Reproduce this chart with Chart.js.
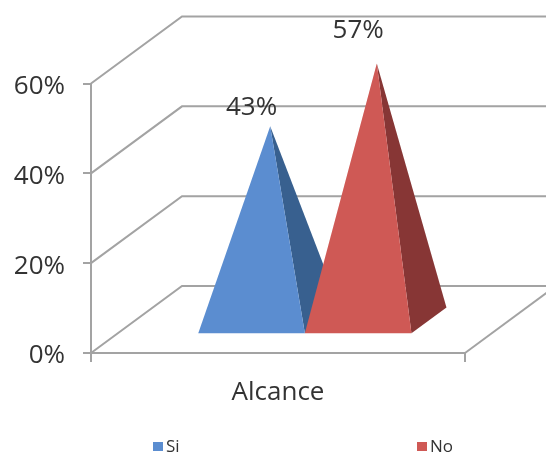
<!DOCTYPE html>
<html>
<head>
<meta charset="utf-8">
<style>
    html, body { margin: 0; padding: 0; background: #fff; }
    #wrap { width: 546px; height: 455px; }
</style>
<script src="https://cdn.jsdelivr.net/npm/chart.js@4/dist/chart.umd.min.js"></script>
</head>
<body>
<div id="wrap"><canvas id="chart" width="546" height="455"></canvas></div>
<script>
/* ============================
   Datos
============================ */
const categories = ['Alcance']
const seriesNames = ['Si', 'No']
const siValues = [43]
const noValues = [57]
const yTicks = [0, 20, 40, 60]

/* ============================
   Estilos
============================ */
const FONT = '"Open Sans", sans-serif'
const GRID_COLOR = '#a3a3a3'
const TEXT_COLOR = '#333333'
const FRONT_COLORS = ['#5b8dd0', '#cf5955']
const SIDE_COLORS = ['#38608f', '#873635']

// Profundidad de la caja 3D, en px
const DEPTH_X = 91
const DEPTH_Y = -67
// Fracciones de profundidad de la piramide
const BAR_FRONT = 0.295
const BAR_APEX = 0.5
const BAR_BACK = 0.68
// Altura de cada etiqueta sobre su vertice
const LABEL_LIFT = [19, 33]
// Posicion de la leyenda
const LEGEND_X = [153, 417]
const LEGEND_Y = 447

function project(x, y, depth) {
    return [x + DEPTH_X * depth, y + DEPTH_Y * depth]
}

function fillPoly(ctx, points, color) {
    ctx.beginPath()
    points.forEach((p, i) => i ? ctx.lineTo(p[0], p[1]) : ctx.moveTo(p[0], p[1]))
    ctx.closePath()
    ctx.fillStyle = color
    ctx.fill()
}

function strokeLine(ctx, points) {
    ctx.beginPath()
    points.forEach((p, i) => i ? ctx.lineTo(p[0], p[1]) : ctx.moveTo(p[0], p[1]))
    ctx.stroke()
}

// Paredes y piso detras de las piramides
function drawWalls(chart) {
    const { ctx, chartArea, scales, width } = chart
    ctx.save()
    ctx.strokeStyle = GRID_COLOR
    ctx.lineWidth = 2
    yTicks.forEach(tick => {
        const y = scales.y.getPixelForValue(tick)
        const back = project(chartArea.left, y, 1)
        strokeLine(ctx, [[chartArea.left, y], back, [width, back[1]]])
    })
    const bottom = scales.y.getPixelForValue(0)
    strokeLine(ctx, [[chartArea.right, bottom], project(chartArea.right, bottom, 1)])
    ctx.restore()
}

function drawPyramid(chart, index) {
    const { ctx, scales } = chart
    const bar = chart.getDatasetMeta(index).data[0]
    const floor = scales.y.getPixelForValue(0)
    const half = bar.width / 2
    const frontLeft = project(bar.x - half, floor, BAR_FRONT)
    const frontRight = project(bar.x + half, floor, BAR_FRONT)
    const backRight = project(bar.x + half, floor, BAR_BACK)
    const apex = project(bar.x, bar.y, BAR_APEX)
    fillPoly(ctx, [frontRight, backRight, apex], SIDE_COLORS[index])
    fillPoly(ctx, [frontLeft, frontRight, apex], FRONT_COLORS[index])
}

function drawLabel(chart, index) {
    const { ctx } = chart
    const bar = chart.getDatasetMeta(index).data[0]
    const value = chart.data.datasets[index].data[0]
    const labelX = project(bar.x, bar.y, BAR_FRONT)[0]
    const labelY = project(bar.x, bar.y, BAR_APEX)[1] - LABEL_LIFT[index]
    ctx.save()
    ctx.font = `26px ${FONT}`
    ctx.fillStyle = TEXT_COLOR
    ctx.textAlign = 'center'
    ctx.textBaseline = 'middle'
    ctx.fillText(`${value}%`, labelX, labelY)
    ctx.restore()
}

// Leyenda con los colores de cada dataset
function drawLegend(chart) {
    const { ctx } = chart
    ctx.save()
    ctx.font = `17px ${FONT}`
    ctx.textBaseline = 'middle'
    chart.data.datasets.forEach((dataset, i) => {
        ctx.fillStyle = dataset.backgroundColor
        ctx.fillRect(LEGEND_X[i], LEGEND_Y - 5, 10, 9)
        ctx.fillStyle = TEXT_COLOR
        ctx.fillText(dataset.label, LEGEND_X[i] + 13, LEGEND_Y)
    })
    ctx.restore()
}

const pyramidPlugin = {
    id: 'pyramid3d',
    beforeDatasetsDraw(chart) {
        drawWalls(chart)
        seriesNames.forEach((name, i) => drawPyramid(chart, i))
        seriesNames.forEach((name, i) => drawLabel(chart, i))
        drawLegend(chart)
        return false
    }
}

/* ============================
   Chart
============================ */
new Chart(document.getElementById('chart').getContext('2d'), {
    type: 'bar',
    plugins: [pyramidPlugin],
    data: {
        labels: categories,
        datasets: [
            { label: seriesNames[0], data: siValues, backgroundColor: FRONT_COLORS[0] },
            { label: seriesNames[1], data: noValues, backgroundColor: FRONT_COLORS[1] }
        ]
    },
    options: {
        responsive: false,
        animation: false,
        categoryPercentage: 0.57,
        barPercentage: 1,
        layout: { padding: { top: 83.5, right: 81, left: 0, bottom: 0 } },
        plugins: {
            tooltip: { enabled: false },
            legend: { display: false }
        },
        scales: {
            x: {
                offset: true,
                afterFit(scale) { scale.height = 102 },
                border: { color: GRID_COLOR, width: 2 },
                grid: { color: GRID_COLOR, lineWidth: 2, drawOnChartArea: false, tickLength: 9, offset: true },
                ticks: { color: TEXT_COLOR, padding: 15, font: { family: FONT, size: 26 } }
            },
            y: {
                min: 0,
                max: 60,
                border: { color: GRID_COLOR, width: 2 },
                afterFit(scale) { scale.width = 91 },
                afterBuildTicks(scale) { scale.ticks = yTicks.map(value => ({ value })) },
                grid: { color: GRID_COLOR, lineWidth: 2, drawOnChartArea: false, tickLength: 8 },
                ticks: {
                    color: TEXT_COLOR,
                    padding: 18,
                    labelOffset: 3,
                    font: { family: FONT, size: 26 },
                    callback: value => `${value}%`
                }
            }
        }
    }
})
</script>
</body>
</html>
